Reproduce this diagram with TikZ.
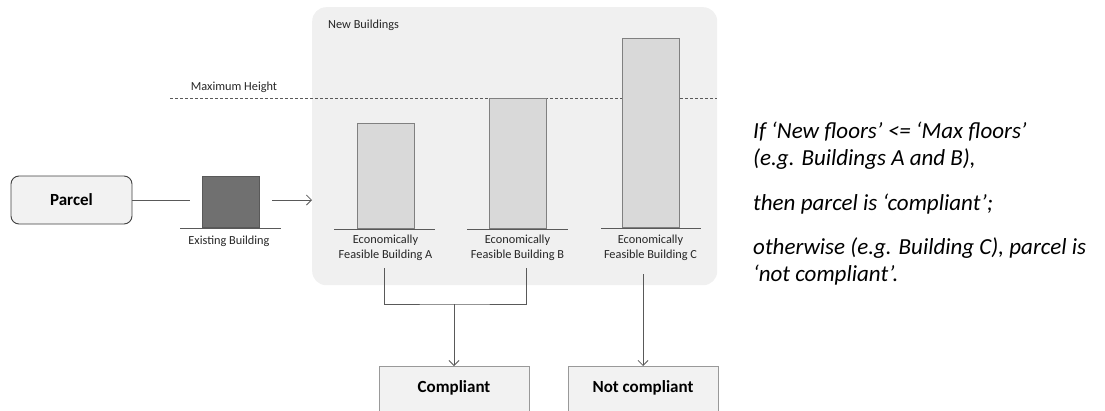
\documentclass[tikz,border=0pt]{standalone}
\usepackage{fontspec}
\setmainfont{Carlito}
\usepackage{xcolor}
\usetikzlibrary{calc,arrows.meta}

\definecolor{panelgray}{HTML}{F0F0F0}
\definecolor{boxgray}{HTML}{F2F2F2}
\definecolor{bldgray}{HTML}{D9D9D9}
\definecolor{oldgray}{HTML}{707070}
\definecolor{linegray}{HTML}{595959}

\begin{document}
\begin{tikzpicture}[x=1pt,y=-1pt,
        box/.style={draw=black!75,fill=boxgray,line width=0.9pt,inner sep=0pt},
        bld/.style={draw=gray,fill=bldgray,line width=0.8pt,anchor=south,inner sep=0pt,minimum width=57pt},
        small/.style={font=\fontsize{12.3}{15}\selectfont,text=black!85,align=center,inner sep=0pt},
        con/.style={draw=linegray,line width=0.8pt},
        >={Straight Barb[length=5pt,width=10pt]}]
        \useasboundingbox (0,0) rectangle (1105,410);
        \clip (0,0) rectangle (1105,410);

        % panel of the new buildings
        \node[fill=panelgray,rounded corners=14pt,minimum width=405pt,minimum height=278pt,anchor=north west] (panel) at (312,7) {};
        \node[small,anchor=west] (newlbl) at (328,25) {New Buildings};

        % maximum height
        \draw[con,dashed,dash pattern=on 3pt off 2pt] (170,98) -- (717,98);
        \node[small] (maxlbl) at (234,87) {Maximum Height};

        % parcel and existing building
        \node[box,rounded corners=8pt,minimum width=121pt,minimum height=48pt,font=\fontsize{17}{20}\selectfont\bfseries] (parcel) at (71.5,200) {Parcel};
        \node[draw=linegray,fill=oldgray,line width=0.8pt,anchor=south,inner sep=0pt,minimum width=57pt,minimum height=51pt] (exist) at (230.5,228) {};
        \draw[con] (180,228) -- (281,228);
        \node[small] (existlbl) at (229,241) {Existing Building};

        \draw[con] (parcel.east) -- ([xshift=-12pt]exist.west |- parcel.east);
        \draw[con,->] ([xshift=13pt]exist.east |- parcel.east) -- (panel.west |- parcel.east);

        % economically feasible buildings
        \node[bld,minimum height=105pt] (bldA) at (385.5,229) {};
        \node[bld,minimum height=130pt] (bldB) at (517.5,229) {};
        \node[bld,minimum height=189pt] (bldC) at (650.5,228) {};
        \draw[con] (334,229) -- (435,229);
        \draw[con] (467,229) -- (568,229);
        \draw[con] (601,228) -- (701,228);
        \node[small] (labA) at (385.5,248) {Economically\\Feasible Building A};
        \node[small] (labB) at (517.5,248) {Economically\\Feasible Building B};
        \node[small] (labC) at (650.5,248) {Economically\\Feasible Building C};

        % outcomes
        \node[draw=gray!80,fill=boxgray,line width=0.8pt,anchor=north,minimum width=150pt,minimum height=70pt,inner sep=0pt] (comp) at (454,366) {};
        \node[font=\fontsize{17}{20}\selectfont\bfseries] (comptxt) at (454,388) {Compliant};
        \node[draw=gray!80,fill=boxgray,line width=0.8pt,anchor=north,minimum width=150pt,minimum height=70pt,inner sep=0pt] (notc) at (643,366) {};
        \node[font=\fontsize{17}{20}\selectfont\bfseries] (notctxt) at (643,388) {Not compliant};

        \coordinate (tA) at (384,268);
        \coordinate (tB) at (526,268);
        \coordinate (tC) at (643,274);
        \coordinate (join) at (454,304);
        \draw[con] (tA) |- (join) -| (tB);
        \draw[con,->] (join) -- (comp.north);
        \draw[con,->] (tC) -- (notc.north);

        % rule
        \node[anchor=north west,align=left,font=\fontsize{23}{27}\selectfont\itshape,inner sep=0pt] (rule) at (753,122)
            {If ‘New floors’ <= ‘Max floors’\\(e.g. Buildings A and B),\\[18pt]then parcel is ‘compliant’;\\[17pt]otherwise (e.g. Building C), parcel is\\‘not compliant’.};
    \end{tikzpicture}
\end{document}
